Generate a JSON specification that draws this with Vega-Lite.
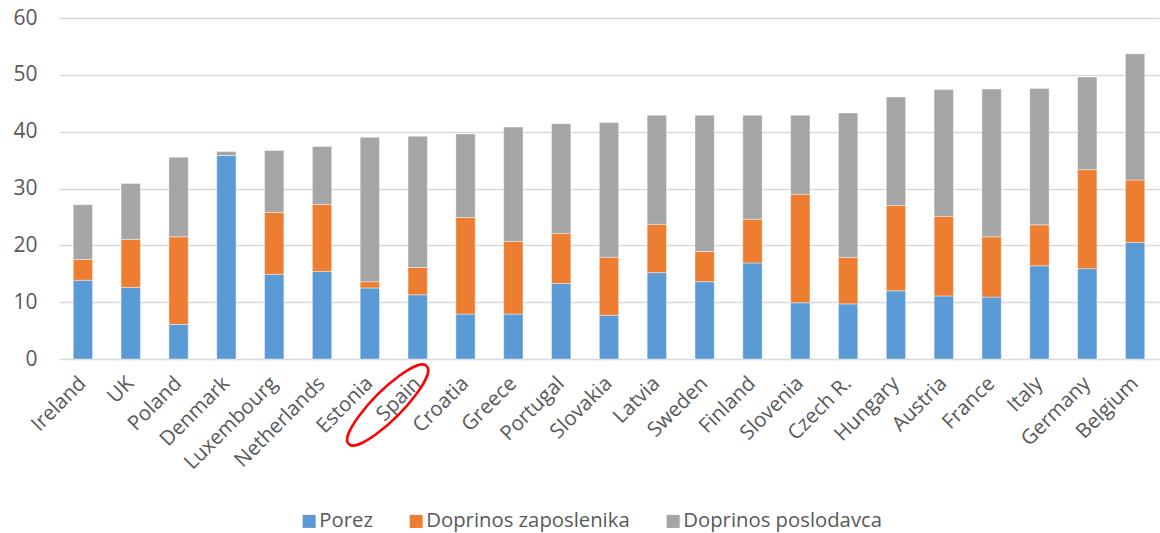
{
  "$schema": "https://vega.github.io/schema/vega-lite/v6.json",
  "width": 1100,
  "height": 341,
  "autosize": {"type": "none"},
  "padding": {"left": 59, "top": 18, "right": 1, "bottom": 174},
  "background": "#ffffff",
  "config": {"view": {"stroke": null}, "font": "Open Sans"},
  "datasets": {
    "bars": [
      {"country": "Ireland", "component": "Porez", "value": 13.85},
      {"country": "Ireland", "component": "Doprinos zaposlenika", "value": 3.65},
      {"country": "Ireland", "component": "Doprinos poslodavca", "value": 9.65},
      {"country": "UK", "component": "Porez", "value": 12.6},
      {"country": "UK", "component": "Doprinos zaposlenika", "value": 8.46},
      {"country": "UK", "component": "Doprinos poslodavca", "value": 9.84},
      {"country": "Poland", "component": "Porez", "value": 6.1},
      {"country": "Poland", "component": "Doprinos zaposlenika", "value": 15.4},
      {"country": "Poland", "component": "Doprinos poslodavca", "value": 14.0},
      {"country": "Denmark", "component": "Porez", "value": 35.8},
      {"country": "Denmark", "component": "Doprinos zaposlenika", "value": 0},
      {"country": "Denmark", "component": "Doprinos poslodavca", "value": 0.7},
      {"country": "Luxembourg", "component": "Porez", "value": 14.9},
      {"country": "Luxembourg", "component": "Doprinos zaposlenika", "value": 10.9},
      {"country": "Luxembourg", "component": "Doprinos poslodavca", "value": 10.9},
      {"country": "Netherlands", "component": "Porez", "value": 15.4},
      {"country": "Netherlands", "component": "Doprinos zaposlenika", "value": 11.8},
      {"country": "Netherlands", "component": "Doprinos poslodavca", "value": 10.2},
      {"country": "Estonia", "component": "Porez", "value": 12.5},
      {"country": "Estonia", "component": "Doprinos zaposlenika", "value": 1.1},
      {"country": "Estonia", "component": "Doprinos poslodavca", "value": 25.4},
      {"country": "Spain", "component": "Porez", "value": 11.3},
      {"country": "Spain", "component": "Doprinos zaposlenika", "value": 4.8},
      {"country": "Spain", "component": "Doprinos poslodavca", "value": 23.1},
      {"country": "Croatia", "component": "Porez", "value": 7.9},
      {"country": "Croatia", "component": "Doprinos zaposlenika", "value": 17.0},
      {"country": "Croatia", "component": "Doprinos poslodavca", "value": 14.7},
      {"country": "Greece", "component": "Porez", "value": 7.9},
      {"country": "Greece", "component": "Doprinos zaposlenika", "value": 12.8},
      {"country": "Greece", "component": "Doprinos poslodavca", "value": 20.1},
      {"country": "Portugal", "component": "Porez", "value": 13.3},
      {"country": "Portugal", "component": "Doprinos zaposlenika", "value": 8.8},
      {"country": "Portugal", "component": "Doprinos poslodavca", "value": 19.3},
      {"country": "Slovakia", "component": "Porez", "value": 7.7},
      {"country": "Slovakia", "component": "Doprinos zaposlenika", "value": 10.2},
      {"country": "Slovakia", "component": "Doprinos poslodavca", "value": 23.7},
      {"country": "Latvia", "component": "Porez", "value": 15.2},
      {"country": "Latvia", "component": "Doprinos zaposlenika", "value": 8.5},
      {"country": "Latvia", "component": "Doprinos poslodavca", "value": 19.2},
      {"country": "Sweden", "component": "Porez", "value": 13.6},
      {"country": "Sweden", "component": "Doprinos zaposlenika", "value": 5.3},
      {"country": "Sweden", "component": "Doprinos poslodavca", "value": 24.0},
      {"country": "Finland", "component": "Porez", "value": 16.9},
      {"country": "Finland", "component": "Doprinos zaposlenika", "value": 7.7},
      {"country": "Finland", "component": "Doprinos poslodavca", "value": 18.3},
      {"country": "Slovenia", "component": "Porez", "value": 9.9},
      {"country": "Slovenia", "component": "Doprinos zaposlenika", "value": 19.1},
      {"country": "Slovenia", "component": "Doprinos poslodavca", "value": 13.9},
      {"country": "Czech R.", "component": "Porez", "value": 9.7},
      {"country": "Czech R.", "component": "Doprinos zaposlenika", "value": 8.2},
      {"country": "Czech R.", "component": "Doprinos poslodavca", "value": 25.4},
      {"country": "Hungary", "component": "Porez", "value": 12.0},
      {"country": "Hungary", "component": "Doprinos zaposlenika", "value": 15.0},
      {"country": "Hungary", "component": "Doprinos poslodavca", "value": 19.1},
      {"country": "Austria", "component": "Porez", "value": 11.1},
      {"country": "Austria", "component": "Doprinos zaposlenika", "value": 14.0},
      {"country": "Austria", "component": "Doprinos poslodavca", "value": 22.3},
      {"country": "France", "component": "Porez", "value": 10.9},
      {"country": "France", "component": "Doprinos zaposlenika", "value": 10.6},
      {"country": "France", "component": "Doprinos poslodavca", "value": 26.0},
      {"country": "Italy", "component": "Porez", "value": 16.4},
      {"country": "Italy", "component": "Doprinos zaposlenika", "value": 7.2},
      {"country": "Italy", "component": "Doprinos poslodavca", "value": 24.0},
      {"country": "Germany", "component": "Porez", "value": 15.9},
      {"country": "Germany", "component": "Doprinos zaposlenika", "value": 17.4},
      {"country": "Germany", "component": "Doprinos poslodavca", "value": 16.3},
      {"country": "Belgium", "component": "Porez", "value": 20.5},
      {"country": "Belgium", "component": "Doprinos zaposlenika", "value": 11.0},
      {"country": "Belgium", "component": "Doprinos poslodavca", "value": 22.2}
    ],
    "highlight": [
      {"country": "Spain", "level": -8.1}
    ]
  },
  "layer": [
    {
      "data": {"name": "bars"},
      "mark": {"type": "bar", "stroke": "#ffffff", "strokeOpacity": 0.5, "strokeWidth": 0.8},
      "encoding": {
        "x": {
          "field": "country",
          "type": "nominal",
          "sort": null,
          "scale": {
            "domain": ["Ireland", "UK", "Poland", "Denmark", "Luxembourg", "Netherlands", "Estonia", "Spain", "Croatia", "Greece", "Portugal", "Slovakia", "Latvia", "Sweden", "Finland", "Slovenia", "Czech R.", "Hungary", "Austria", "France", "Italy", "Germany", "Belgium"],
            "paddingInner": 0.596,
            "paddingOuter": 0.298
          },
          "axis": {
            "title": null,
            "labelAngle": -45,
            "labelAlign": "right",
            "labelBaseline": "middle",
            "labelPadding": 21,
            "labelFontSize": 20.5,
            "labelColor": "#595959",
            "labelLimit": 0,
            "ticks": false,
            "domain": false,
            "grid": false
          }
        },
        "y": {
          "field": "value",
          "type": "quantitative",
          "stack": "zero",
          "scale": {"domain": [0, 60], "nice": false},
          "axis": {
            "title": null,
            "values": [0, 10, 20, 30, 40, 50, 60],
            "labelFontSize": 21,
            "labelColor": "#595959",
            "labelPadding": 22,
            "ticks": false,
            "domain": false,
            "grid": true,
            "gridColor": "#d9d9d9",
            "gridWidth": 1.4
          }
        },
        "color": {
          "field": "component",
          "type": "nominal",
          "scale": {
            "domain": ["Porez", "Doprinos zaposlenika", "Doprinos poslodavca"],
            "range": ["#5b9bd5", "#ed7d31", "#a5a5a5"]
          },
          "legend": {
            "title": null,
            "orient": "none",
            "direction": "horizontal",
            "legendX": 240,
            "legendY": 493,
            "symbolType": "square",
            "symbolSize": 169,
            "symbolStrokeWidth": 0,
            "labelFontSize": 20.3,
            "labelColor": "#595959",
            "labelOffset": 0,
            "labelLimit": 0,
            "columnPadding": 33,
            "padding": 0
          }
        }
      }
    },
    {
      "data": {"name": "highlight"},
      "mark": {
        "type": "point",
        "shape": "M -1.148 0.648 A 0.917 0.233 -45 1 1 0.148 -0.648 A 0.917 0.233 -45 1 1 -1.148 0.648 Z",
        "size": 14400,
        "filled": false,
        "stroke": "#ff0000",
        "strokeWidth": 2.5,
        "opacity": 1
      },
      "encoding": {
        "x": {"field": "country", "type": "nominal"},
        "y": {"field": "level", "type": "quantitative"}
      }
    }
  ]
}
